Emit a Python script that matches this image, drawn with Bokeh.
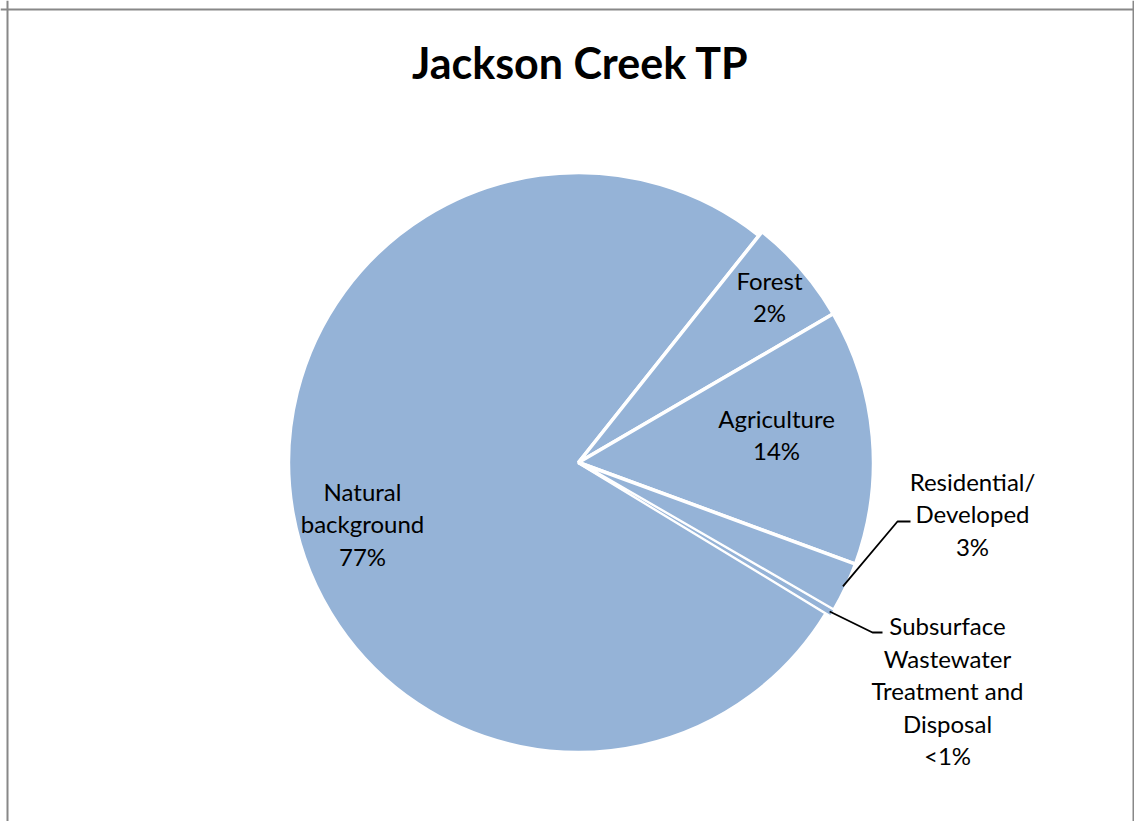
import math
from bokeh.plotting import figure
from bokeh.models import Range1d, Span, ColumnDataSource
from bokeh.core.properties import value
from bokeh.embed import file_html
from bokeh.resources import INLINE

# ---- data ----
title_text = "Jackson Creek TP"
categories = ["Natural background", "Forest", "Agriculture",
              "Residential/ Developed", "Subsurface Wastewater Treatment and Disposal"]
shares = [77.0, 5.9, 14.0, 2.75, 0.35]          # slice sizes (%)
label_lines = [
    ["Natural", "background", "77%"],
    ["Forest", "2%"],
    ["Agriculture", "14%"],
    ["Residential/", "Developed", "3%"],
    ["Subsurface", "Wastewater", "Treatment and", "Disposal", "<1%"],
]

# ---- layout (picture pixel coordinates) ----
W, H = 1134, 821
def sy(y):
    return 829 - y

cx, cy = 578, sy(462)
first_start_deg = -31.3        # start of first slice, going clockwise
radii = [290, 295, 295, 295, 295]
label_pos = [(362, 523), (769, 296), (776, 434), (972, 513), (947, 690)]
line_gap = 32.5
leader_elbow = {3: [(897, 521), (910, 521)], 4: [(872, 632), (882, 632)]}
fill = "#95B3D7"

p = figure(width=W, height=H, x_range=Range1d(0, W), y_range=Range1d(8, 8 + H),
           x_axis_type=None, y_axis_type=None, toolbar_location=None,
           output_backend="svg", min_border=0, outline_line_color=None,
           background_fill_color="white", border_fill_color="white")
p.grid.visible = False

# wedges
starts, ends, mids = [], [], []
a = math.radians(first_start_deg)
for s in shares:
    span_ = math.radians(s * 3.6)
    ends.append(a)
    starts.append(a - span_)
    mids.append(a - span_ / 2)
    a -= span_

src = ColumnDataSource(dict(x=[cx] * len(shares), y=[cy] * len(shares), r=radii,
                            start=starts, end=ends, lw=[3.5, 3.5, 3.5, 3.5, 1.2],
                            name=categories))
p.wedge(x="x", y="y", radius="r", start_angle="start", end_angle="end",
        source=src, fill_color=fill, line_color="white", line_width="lw")

# leader lines
for i, pts in leader_elbow.items():
    r = radii[i] - 3
    x0 = cx + r * math.cos(mids[i])
    y0 = cy + r * math.sin(mids[i])
    xs = [x0] + [q[0] for q in pts]
    ys = [y0] + [sy(q[1]) for q in pts]
    p.line(xs, ys, line_color="black", line_width=1.8)

# labels
tx, ty, tt = [], [], []
for (lx, ly), lines in zip(label_pos, label_lines):
    n = len(lines)
    for k, t in enumerate(lines):
        tx.append(lx)
        ty.append(sy(ly + (k - (n - 1) / 2) * line_gap))
        tt.append(t)
p.text(x=tx, y=ty, text=tt, text_align="center", text_baseline="middle",
       text_font=value("Lato"), text_font_size="24px", text_color="black")

# title
p.text(x=[580], y=[sy(62)], text=[title_text], text_align="center", text_baseline="middle",
       text_font=value("Lato"), text_font_style="bold", text_font_size="43px",
       text_color="black")

# chart frame (left, top, right)
for loc, dim in [(7, "height"), (1133, "height")]:
    p.add_layout(Span(location=loc, dimension=dim, line_color="#888888", line_width=2))
p.add_layout(Span(location=sy(9), dimension="width", line_color="#888888", line_width=2))

open("out.html", "w").write(file_html(p, INLINE))
